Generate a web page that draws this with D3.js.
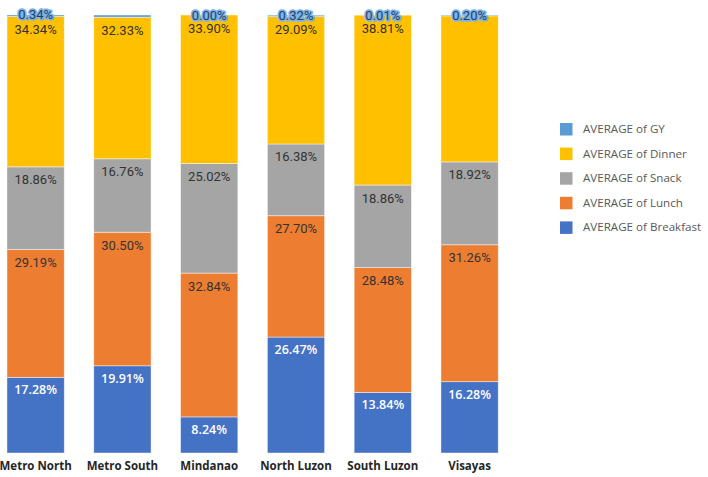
<!DOCTYPE html>
<html>
<head>
<meta charset="utf-8">
<script src="https://cdn.jsdelivr.net/npm/d3@7"></script>
<style>
  html, body { margin: 0; padding: 0; background: #fff; }
  svg { display: block; }
</style>
</head>
<body>
<svg id="chart" width="708" height="477"></svg>
<script>
// ---- data ----
const categories = ["Metro North", "Metro South", "Mindanao", "North Luzon", "South Luzon", "Visayas"];
const breakfast = [17.28, 19.91, 8.24, 26.47, 13.84, 16.28];
const lunch     = [29.19, 30.50, 32.84, 27.70, 28.48, 31.26];
const snack     = [18.86, 16.76, 25.02, 16.38, 18.86, 18.92];
const dinner    = [34.34, 32.33, 33.90, 29.09, 38.81, 33.34];
const gy        = [0.34, 0.50, 0.00, 0.32, 0.01, 0.20];
const seriesNames = ["AVERAGE of Breakfast", "AVERAGE of Lunch", "AVERAGE of Snack", "AVERAGE of Dinner", "AVERAGE of GY"];
const seriesKeys = ["breakfast", "lunch", "snack", "dinner", "gy"];
const seriesColors = ["#4472C4", "#ED7D31", "#A5A5A5", "#FFC000", "#5B9BD5"];
// labels that the original chart does not show
const hiddenLabels = [["gy", "Metro South"], ["dinner", "Visayas"]];

const seriesValues = { breakfast, lunch, snack, dinner, gy };
const rows = categories.map((c, i) => {
  const r = { category: c };
  seriesKeys.forEach(k => r[k] = seriesValues[k][i]);
  return r;
});

const svg = d3.select("#chart");
const x = d3.scaleBand().domain(categories).range([3.5, 501.7]).paddingInner(0.34).paddingOuter(0.04);
const y = d3.scaleLinear().domain([0, 100]).range([453, 15]);

const stack = d3.stack().keys(seriesKeys);
const stacked = stack(rows);

const g = svg.append("g");
stacked.forEach((layer, li) => {
  g.append("g").selectAll("rect")
    .data(layer)
    .join("rect")
    .attr("x", d => x(d.data.category))
    .attr("width", x.bandwidth())
    .attr("y", d => y(d[1]))
    .attr("height", d => Math.max(0, y(d[0]) - y(d[1])))
    .attr("fill", seriesColors[li])
    .attr("stroke", "#ffffff")
    .attr("stroke-opacity", 0.6)
    .attr("stroke-width", 0.75);
});

const isHidden = (k, c) => hiddenLabels.some(h => h[0] === k && h[1] === c);

// labels
stacked.forEach((layer, li) => {
  const key = seriesKeys[li];
  const lg = g.append("g");
  layer.forEach(d => {
    const c = d.data.category;
    if (isHidden(key, c)) return;
    const v = d.data[key];
    const cx = x(c) + x.bandwidth() / 2;
    const t = lg.append("text")
      .attr("x", cx)
      .attr("text-anchor", "middle")
      .text(v.toFixed(2) + "%");
    if (key === "gy") {
      t.attr("y", y(d[1]) + 4.5)
        .attr("font-family", "Roboto, sans-serif")
        .attr("font-size", 13)
        .attr("fill", "#1f3f66")
        .attr("stroke", "#7fb2e5")
        .attr("stroke-width", 3.5)
        .attr("stroke-linejoin", "round")
        .attr("paint-order", "stroke");
    } else if (key === "breakfast") {
      t.attr("y", y(d[1]) + 17)
        .attr("font-family", "'Open Sans', sans-serif")
        .attr("font-weight", 600)
        .attr("font-size", 12.5)
        .attr("fill", "#ffffff");
    } else {
      t.attr("y", y(d[1]) + 17.5)
        .attr("font-family", "Roboto, sans-serif")
        .attr("font-size", 13)
        .attr("fill", "#333333");
    }
  });
});

// x axis labels
const xAxis = d3.axisBottom(x).tickSize(0).tickPadding(9);
const ax = svg.append("g").attr("transform", "translate(0,453)").call(xAxis);
ax.select(".domain").remove();
ax.selectAll("text")
  .attr("font-family", "'Open Sans', sans-serif")
  .attr("font-weight", 700)
  .attr("font-size", 11.5)
  .attr("fill", "#262626");

// legend (top to bottom: GY, Dinner, Snack, Lunch, Breakfast)
const legendOrder = d3.range(seriesKeys.length).reverse();
const legend = svg.append("g");
legendOrder.forEach((si, i) => {
  const cy = 129 + i * 24.6;
  legend.append("rect")
    .attr("x", 560).attr("y", cy - 6)
    .attr("width", 12.5).attr("height", 12.5)
    .attr("fill", seriesColors[si]);
  legend.append("text")
    .attr("x", 583).attr("y", cy + 4)
    .attr("font-family", "'Open Sans', sans-serif")
    .attr("font-size", 11.6)
    .attr("fill", "#595959")
    .text(seriesNames[si]);
});
</script>
</body>
</html>
